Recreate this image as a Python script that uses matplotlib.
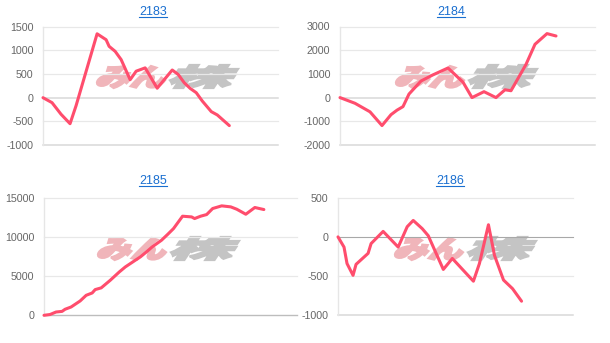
import matplotlib
matplotlib.use("Agg")
import matplotlib.pyplot as plt
from matplotlib.textpath import TextPath
from matplotlib.patches import PathPatch
from matplotlib.font_manager import FontProperties
from matplotlib.transforms import Affine2D
from matplotlib.lines import Line2D

# ---- data ----
titles = ["2183", "2184", "2185", "2186"]

days_2183 = [0, 3, 6, 9, 11, 18, 21, 22, 24, 26, 29, 31, 34, 38, 43, 45, 47, 49, 51, 53, 56, 58, 62]
vals_2183 = [0, -105, -350, -550, -170, 1350, 1225, 1085, 980, 805, 380, 560, 630, 200, 585, 490, 315, 195, 105, -70, -295, -365, -590]

days_2184 = [0, 5, 10, 14, 17, 19, 21, 23, 27, 31, 36, 41, 44, 48, 52, 55, 57, 62, 65, 69, 72]
vals_2184 = [0, -240, -600, -1180, -720, -530, -380, 150, 700, 960, 1250, 650, 0, 250, 0, 330, 290, 1400, 2250, 2700, 2600]

days_2185 = [0, 2, 4, 6, 7, 9, 12, 14, 16, 17, 19, 22, 25, 27, 30, 32, 34, 36, 39, 41, 43, 46, 49, 50, 52, 54, 56, 59, 62, 64, 67, 70, 73]
vals_2185 = [0, 100, 420, 500, 770, 1060, 1830, 2550, 2850, 3280, 3500, 4470, 5530, 6170, 6940, 7450, 8080, 8750, 9570, 10300, 11060, 12640, 12550, 12340, 12640, 12850, 13620, 13960, 13830, 13530, 12890, 13750, 13490]

days_2186 = [0, 2, 3, 5, 6, 10, 11, 15, 20, 23, 25, 28, 30, 35, 38, 45, 47, 50, 52, 55, 58, 61]
vals_2186 = [0, -130, -340, -490, -350, -210, -85, 70, -130, 130, 210, 105, 15, -415, -275, -565, -340, 155, -235, -550, -660, -820]

yticks_2183 = [-1000, -500, 0, 500, 1000, 1500]
yticks_2184 = [-2000, -1000, 0, 1000, 2000, 3000]
yticks_2185 = [0, 5000, 10000, 15000]
yticks_2186 = [-1000, -500, 0, 500]

series = [
    (days_2183, vals_2183, yticks_2183, 78.2),
    (days_2184, vals_2184, yticks_2184, 85.0),
    (days_2185, vals_2185, yticks_2185, 84.0),
    (days_2186, vals_2186, yticks_2186, 78.1),
]

# ---- layout (pixels) ----
W, H = 610, 343
boxes = [(43, 26.7, 278, 145), (340, 26.5, 595, 145),
         (44, 197.7, 297, 315.3), (338, 197.7, 573, 315.3)]
title_pos = [(153, 12), (451, 12), (153, 181), (450, 181)]
wm_pos = [(94, 64), (393, 64), (95, 236), (392, 236)]
zero_style = [("#d9d9d9", 1.1), ("#d9d9d9", 1.1), ("#bdbdbd", 1.0), ("#a8a8a8", 0.8)]

LINE = "#ff4d6d"
plt.rcParams['font.family'] = ['Liberation Sans', 'DejaVu Sans']

fig = plt.figure(figsize=(W / 100, H / 100), dpi=100)
fig.patch.set_facecolor("white")

cjk = FontProperties(family="Noto Sans CJK JP", weight="heavy")


def add_glyphs(text, x, ytop, w, h, color):
    p = TextPath((0, 0), text, prop=cjk, size=1)
    p = p.transformed(Affine2D().skew_deg(14, 0))
    bb = p.get_extents()
    tr = (Affine2D().translate(-bb.x0, -bb.y0)
          .scale(w / bb.width, h / bb.height)
          .translate(x, H - ytop - h))
    patch = PathPatch(p, transform=tr, facecolor=color, edgecolor=color,
                      lw=1.6, zorder=-1)
    fig.add_artist(patch)


axes = []
for i, ((d, v, yt, xmax), (x0, y0, x1, y1)) in enumerate(zip(series, boxes)):
    ax = fig.add_axes([x0 / W, 1 - y1 / H, (x1 - x0) / W, (y1 - y0) / H])
    ax.set_facecolor("none")
    ax.set_xlim(0, xmax)
    ax.set_ylim(yt[0], yt[-1])
    for s in ["top", "right", "bottom"]:
        ax.spines[s].set_visible(False)
    ax.spines["left"].set_color("#e6e6e6")
    ax.spines["left"].set_linewidth(1.0)
    zc, zw = zero_style[i]
    for t in yt:
        if t == 0:
            ax.axhline(t, color=zc, lw=zw, zorder=1, clip_on=False)
        elif t == yt[0]:
            ax.axhline(t, color="#d9d9d9", lw=1.1, zorder=1, clip_on=False)
        else:
            ax.axhline(t, color="#e8e8e8", lw=0.9, zorder=1, clip_on=False)
    ax.set_xticks([])
    ax.set_yticks(yt)
    ax.set_yticklabels([str(t) for t in yt])
    ax.tick_params(axis="y", length=0, pad=7, labelsize=7.7, labelcolor="#666666")
    ax.plot(d, v, color=LINE, lw=2.2, solid_joinstyle="round",
            solid_capstyle="round", zorder=3, clip_on=False)
    axes.append(ax)

    # watermark
    wx, wy = wm_pos[i]
    add_glyphs("みん", wx + 3, wy + 2, 68, 22, "#f0b5ba")
    add_glyphs("株", wx + 76, wy + 1, 68, 23, "#c4c4c4")

# titles with underline
texts = []
for (tx, ty), title in zip(title_pos, titles):
    t = fig.text(tx / W, 1 - ty / H, title, ha="center", va="center",
                 color="#1a6fd0", fontsize=9)
    texts.append(t)

fig.canvas.draw()
r = fig.canvas.get_renderer()
for t in texts:
    bb = t.get_window_extent(r)
    yline = bb.y0 + 1.0
    fig.add_artist(Line2D([bb.x0 / W, bb.x1 / W], [yline / H, yline / H],
                          color="#1a6fd0", lw=0.8, transform=fig.transFigure))

fig.savefig("out.png", dpi=100)
